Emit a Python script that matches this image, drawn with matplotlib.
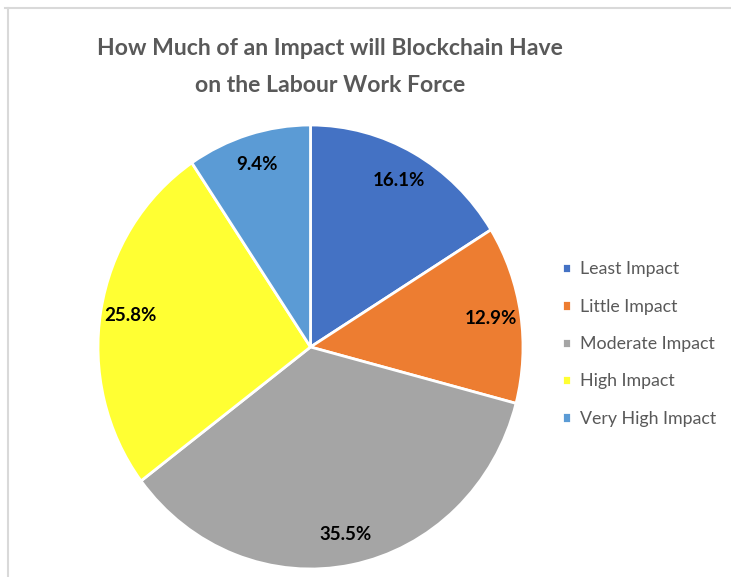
import matplotlib.pyplot as plt
from matplotlib.lines import Line2D

# datos del grafico
categories = ['Least Impact', 'Little Impact', 'Moderate Impact', 'High Impact', 'Very High Impact']
shares = [16.1, 12.9, 35.5, 25.8, 9.4]
share_labels = ['16.1%', '12.9%', '35.5%', '25.8%', '9.4%']
colors = ['#4472C4', '#ED7D31', '#A5A5A5', '#FFFF33', '#5B9BD5']

plt.rcParams['font.family'] = ['Lato', 'DejaVu Sans']

W, H = 731, 577
fig = plt.figure(figsize=(W / 100, H / 100), dpi=100)

# caja del pastel (en pixeles de la imagen)
left, right, top, bottom = 98, 523, 125, 569
ax = fig.add_axes([left / W, 1 - bottom / H, (right - left) / W, (bottom - top) / H])

wedges, texts = ax.pie(shares, colors=colors, startangle=90, counterclock=False,
                       labels=share_labels, labeldistance=0.86,
                       wedgeprops=dict(edgecolor='white', linewidth=2))
for t in texts:
    t.set_ha('center')
    t.set_va('center')
    t.set_fontsize(13.5)
    t.set_fontweight('bold')
    t.set_color('black')
ax.set_aspect('auto')
ax.set_xlim(-1, 1)
ax.set_ylim(-1, 1)

fig.text(330 / W, 1 - 67 / H, 'How Much of an Impact will Blockchain Have\non the Labour Work Force',
         ha='center', va='center', fontsize=16.6, fontweight='bold', color='#595959',
         linespacing=1.9)

fig.legend(wedges, categories, loc='upper left', bbox_to_anchor=(550 / W, 1 - 249 / H),
           frameon=False, fontsize=12.8, labelcolor='#595959', handlelength=0.5,
           handleheight=0.5, handletextpad=0.5, labelspacing=1.2, borderpad=0.2)

# marco gris superior e izquierdo
fig.add_artist(Line2D([5 / W, 1], [1 - 8 / H, 1 - 8 / H], color='#D9D9D9', linewidth=1.5))
fig.add_artist(Line2D([7.5 / W, 7.5 / W], [0, 1 - 8 / H], color='#D9D9D9', linewidth=1.5))

fig.savefig('out.png', dpi=100)
